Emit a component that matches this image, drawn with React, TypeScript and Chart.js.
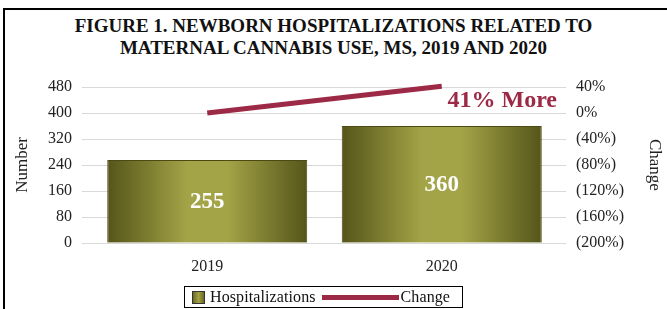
import React, { useEffect, useRef } from "react";
import { Chart, registerables } from "chart.js";

Chart.register(...registerables);

const categories = ["2019", "2020"];
const hospitalizations = [255, 360];
const changeValues = [0, 0.41];
const leftTicks = [0, 80, 160, 240, 320, 400, 480];
const rightTicks = [-2.0, -1.6, -1.2, -0.8, -0.4, 0, 0.4];
const annotationText = "41% More";
const titleLines = [
  "FIGURE 1. NEWBORN HOSPITALIZATIONS RELATED TO",
  "MATERNAL CANNABIS USE, MS, 2019 AND 2020",
];

const SERIF = "'Liberation Serif', 'Times New Roman', serif";
const RED = "#9c2946";
const BAR_PCT = 0.853;

function fmtPct(v: number) {
  const p = Math.round(v * 100);
  if (p < 0) return "(" + Math.abs(p) + "%)";
  return p + "%";
}

function barGradient(c: any) {
  const chart = c.chart;
  const xs = chart.scales && chart.scales.x;
  if (!chart.chartArea || !xs) return "#8a8a35";
  const cx = xs.getPixelForValue(c.dataIndex);
  const w = (xs.width / categories.length) * BAR_PCT;
  const x0 = cx - w / 2;
  const g = chart.ctx.createLinearGradient(x0, 0, x0 + w, 0);
  g.addColorStop(0, "#55551a");
  g.addColorStop(0.4, "#a3a347");
  g.addColorStop(0.6, "#a3a347");
  g.addColorStop(1, "#55551a");
  return g;
}

const customPlugin = {
  id: "customDraw",
  beforeDatasetsDraw(chart: any) {
    const ctx = chart.ctx;
    const ys = chart.scales.y;
    ctx.save();
    ctx.strokeStyle = "#d9d9d9";
    ctx.lineWidth = 1;
    leftTicks.forEach((v) => {
      const y = Math.round(ys.getPixelForValue(v)) + 0.5;
      ctx.beginPath();
      ctx.moveTo(82, y);
      ctx.lineTo(566, y);
      ctx.stroke();
    });
    ctx.restore();
  },
  afterDatasetsDraw(chart: any) {
    const ctx = chart.ctx;
    const meta = chart.getDatasetMeta(0);
    ctx.save();
    ctx.font = "bold 23px " + SERIF;
    ctx.fillStyle = "#ffffff";
    ctx.textAlign = "center";
    ctx.textBaseline = "middle";
    meta.data.forEach((el: any, i: number) => {
      const mid = (el.y + el.base) / 2;
      ctx.fillText(String(hospitalizations[i]), el.x, mid + 1);
    });
    const yR = chart.scales.y1;
    ctx.font = "bold 24px " + SERIF;
    ctx.fillStyle = RED;
    ctx.textAlign = "right";
    ctx.fillText(annotationText, chart.chartArea.right - 2, yR.getPixelForValue(0.2) + 1);
    ctx.restore();
  },
};

export default function App() {
  const ref = useRef<HTMLCanvasElement>(null);
  useEffect(() => {
    const chart = new Chart(ref.current!, {
      type: "bar",
      data: {
        labels: categories,
        datasets: [
          {
            type: "bar",
            label: "Hospitalizations",
            data: hospitalizations,
            backgroundColor: barGradient,
            borderColor: "#4a4a12",
            borderWidth: 1,
            categoryPercentage: 1,
            barPercentage: BAR_PCT,
            yAxisID: "y",
            order: 2,
          } as any,
          {
            type: "line",
            label: "Change",
            data: changeValues,
            borderColor: RED,
            backgroundColor: RED,
            borderWidth: 5,
            pointRadius: 0,
            clip: false,
            yAxisID: "y1",
            order: 1,
          } as any,
        ],
      },
      options: {
        animation: false,
        responsive: false,
        maintainAspectRatio: false,
        layout: { padding: { top: 87, left: 0, right: 0, bottom: 19 } },
        plugins: {
          legend: { display: false },
          tooltip: { enabled: false },
          title: { display: false },
        },
        scales: {
          x: {
            grid: { display: false, drawTicks: false },
            border: { display: false },
            ticks: {
              color: "#222",
              font: { family: SERIF, size: 16 },
              padding: 14,
            },
          },
          y: {
            position: "left",
            min: 0,
            max: 480,
            afterBuildTicks(scale: any) {
              scale.ticks = leftTicks.map((v) => ({ value: v }));
            },
            afterFit(scale: any) {
              scale.width = 90;
            },
            grid: { display: false, drawTicks: false },
            border: { display: false },
            ticks: {
              color: "#222",
              font: { family: SERIF, size: 16 },
              padding: 18,
            },
            title: {
              display: true,
              text: "Number",
              color: "#222",
              font: { family: SERIF, size: 17 },
              padding: { top: 12, bottom: 0 },
            },
          },
          y1: {
            position: "right",
            min: -2.0,
            max: 0.4,
            afterBuildTicks(scale: any) {
              scale.ticks = rightTicks.map((v) => ({ value: v }));
            },
            afterFit(scale: any) {
              scale.width = 108;
            },
            grid: { display: false, drawTicks: false },
            border: { display: false },
            ticks: {
              color: "#222",
              font: { family: SERIF, size: 16 },
              padding: 17,
              callback: (v: any) => fmtPct(Number(v)),
            },
            title: {
              display: true,
              text: "Change",
              color: "#222",
              font: { family: SERIF, size: 17 },
              padding: { top: 2, bottom: 0 },
            },
          },
        },
      },
      plugins: [customPlugin],
    });
    return () => chart.destroy();
  }, []);

  return (
    <div
      style={{
        position: "absolute",
        left: 0,
        top: 0,
        width: 667,
        height: 309,
        background: "#fff",
        overflow: "hidden",
        fontFamily: SERIF,
      }}
    >
      <div
        style={{
          position: "absolute",
          left: 3,
          top: 8,
          width: 800,
          height: 400,
          borderLeft: "2px solid #000",
          borderTop: "2px solid #000",
        }}
      />
      <div
        style={{
          position: "absolute",
          left: 0,
          top: 15,
          width: 667,
          textAlign: "center",
          fontWeight: "bold",
          fontSize: 19,
          lineHeight: "22px",
          color: "#111",
        }}
      >
        {titleLines.map((t, i) => (
          <div key={i}>{t}</div>
        ))}
      </div>
      <canvas
        ref={ref}
        width={667}
        height={309}
        style={{ position: "absolute", left: 0, top: 0, width: 667, height: 309 }}
      />
      <div
        style={{
          position: "absolute",
          left: 184,
          top: 286,
          width: 279,
          height: 22,
          border: "1px solid #000",
          display: "flex",
          alignItems: "center",
          fontSize: 16,
          letterSpacing: "0.1px",
          color: "#111",
          boxSizing: "border-box",
          whiteSpace: "nowrap",
        }}
      >
        <span
          style={{
            display: "inline-block",
            width: 11,
            height: 11,
            marginLeft: 7,
            marginRight: 5,
            border: "1px solid #333",
            background: "linear-gradient(90deg,#6a6a22,#a2a246,#6a6a22)",
          }}
        />
        <span>Hospitalizations</span>
        <span
          style={{
            display: "inline-block",
            width: 77,
            height: 5,
            marginLeft: 6,
            marginRight: 2,
            background: RED,
          }}
        />
        <span>Change</span>
      </div>
    </div>
  );
}
